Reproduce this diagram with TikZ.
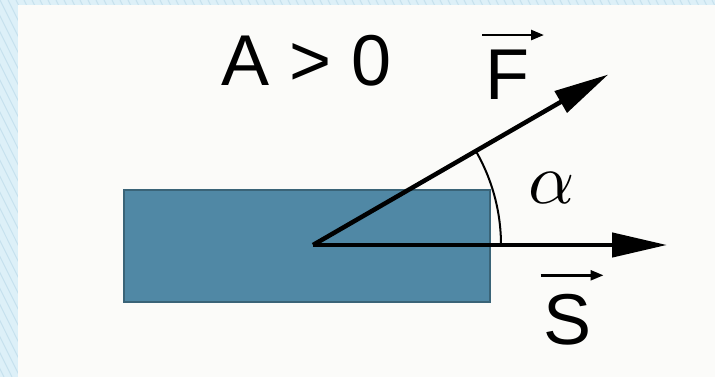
\documentclass[tikz,border=0pt]{standalone}
\usepackage{fontspec}
\setmainfont{Liberation Sans}
\usetikzlibrary{arrows.meta,calc}
\definecolor{hatchbg}{HTML}{DDF0F8}
\definecolor{hatchln}{HTML}{C6E1EE}
\definecolor{panel}{HTML}{FBFBF9}
\definecolor{blockfill}{HTML}{5088A5}
\definecolor{blockedge}{HTML}{3A6478}
\tikzset{
  bigtext/.style={inner sep=0pt, font=\fontsize{72}{80}\selectfont},
  vecmain/.style={line width=4.5pt, -{Triangle[length=55pt,width=24pt]}},
  vecsmall/.style={line width=2.5pt, -{Triangle[length=13pt,width=10pt]}},
  anglearc/.style={line width=2pt},
  block/.style={fill=blockfill, draw=blockedge, line width=1.2pt}
}
\begin{document}
\begin{tikzpicture}[x=1pt,y=1pt]
\useasboundingbox (0,0) rectangle (715,377);
% hatched frame
\fill[hatchbg] (0,0) rectangle (715,377);
\begin{scope}
\clip (0,0) rectangle (715,377);
\foreach \i in {-200,-192,...,720}{
  \draw[hatchln, line width=1pt] (\i,377) -- ++(188,-377);
}
\end{scope}
\fill[panel] (18,0) rectangle (715,372);
% block
\draw[block] (124,75) rectangle (490,187);
% origin and vectors
\coordinate (O) at (313,132);
\coordinate (Stip) at (667,132);
\coordinate (Ftip) at ($(O)+(30:341)$);
\draw[anglearc] ($(O)+(0:188)$) arc[start angle=0, end angle=30, radius=188];
\draw[vecmain] (O) -- (Ftip);
\draw[vecmain] (O) -- (Stip);
% labels
\node[bigtext] (A) at (307,316) {A > 0};
\node[bigtext] (F) at (507,302) {F};
\node[bigtext] (S) at (567.5,57) {S};
\node[inner sep=0pt] (al) at (552,189) {\scalebox{7.2}{$\alpha$}};
\draw[vecsmall] ($(F.north)+(-25,15)$) -- ($(F.north)+(37,15)$);
\draw[vecsmall] ($(S.north)+(-27,19)$) -- ($(S.north)+(36,19)$);
\end{tikzpicture}
\end{document}
